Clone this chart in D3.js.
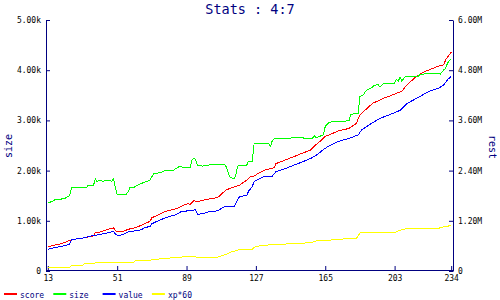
<!DOCTYPE html>
<html>
<head>
<meta charset="utf-8">
<script src="https://cdn.jsdelivr.net/npm/d3@7"></script>
<style>
body { margin: 0; background: #fff; }
svg text { font-family: "DejaVu Sans Mono", monospace; }
</style>
</head>
<body>
<div id="figure"></div>
<script>
// tick labels / axis setup
var turnTicks = [13, 51, 89, 127, 165, 203, 234];
var sizeTicks = [0, 1000, 2000, 3000, 4000, 5000];
var restTicks = [0, 1.2e6, 2.4e6, 3.6e6, 4.8e6, 6e6];
var seriesNames = ["score", "size", "value", "xp*60"];
var seriesColors = ["#ff0000", "#00ff00", "#0000ff", "#ffff00"];

// [turn, value]
var score = [[13,480],[16,510],[20,540],[23,580],[25,610],[27,630],[33,660],[38,700],[39,760],[42,780],[44,810],[47,840],[49,860],[50,810],[51,780],[54,790],[58,840],[61,860],[64,910],[66,940],[69,990],[70,1060],[73,1110],[77,1180],[81,1220],[85,1260],[87,1310],[90,1340],[91,1330],[93,1400],[95,1380],[99,1420],[102,1440],[106,1460],[108,1530],[111,1620],[114,1660],[118,1710],[122,1810],[124,1880],[126,1890],[128,1940],[132,2010],[137,2060],[138,2140],[143,2210],[148,2280],[152,2340],[157,2410],[159,2490],[163,2610],[165,2680],[169,2740],[172,2790],[178,2840],[180,2890],[182,2940],[184,3110],[187,3210],[191,3340],[197,3440],[202,3510],[207,3580],[209,3680],[212,3780],[215,3880],[220,3980],[227,4080],[230,4110],[231,4210],[233,4310],[234,4360]];

var size = [[13,1360],[15,1380],[17,1420],[22,1440],[25,1500],[26,1660],[34,1660],[35,1700],[38,1700],[39,1840],[40,1780],[41,1800],[43,1790],[46,1800],[48,1790],[49,1840],[50,1660],[51,1530],[56,1530],[57,1580],[58,1660],[60,1660],[61,1690],[64,1740],[66,1770],[69,1810],[70,1880],[71,1940],[75,1960],[77,2000],[82,2010],[83,2040],[85,2080],[87,2070],[91,2070],[92,2210],[93,2240],[94,2220],[95,2100],[98,2090],[101,2110],[102,2120],[110,2120],[111,2060],[112,1940],[113,1860],[115,1840],[116,1910],[117,2090],[118,2110],[122,2110],[123,2190],[125,2190],[126,2530],[134,2540],[135,2480],[136,2600],[137,2630],[141,2640],[152,2660],[154,2640],[158,2640],[159,2700],[160,2650],[163,2700],[164,2710],[165,2880],[167,2960],[170,2980],[178,2990],[179,3120],[183,3140],[184,3480],[186,3510],[187,3580],[188,3610],[190,3640],[192,3700],[194,3710],[195,3660],[197,3740],[203,3740],[204,3820],[205,3780],[206,3860],[207,3780],[208,3840],[209,3880],[216,3880],[217,3920],[227,3940],[228,3920],[230,4010],[231,4040],[232,4140],[234,4230]];

var value = [[13,430],[16,460],[20,490],[23,510],[25,540],[26,620],[29,640],[33,660],[37,700],[42,730],[46,760],[49,790],[50,740],[51,710],[54,720],[57,780],[61,800],[64,820],[66,860],[69,890],[70,940],[74,1010],[79,1080],[83,1120],[86,1180],[90,1200],[94,1220],[95,1130],[98,1140],[101,1180],[104,1180],[107,1220],[110,1290],[115,1280],[117,1420],[118,1480],[122,1510],[123,1590],[125,1680],[126,1780],[128,1820],[132,1890],[136,1890],[138,1980],[143,2040],[148,2110],[153,2180],[158,2260],[161,2330],[164,2420],[167,2490],[172,2580],[178,2640],[183,2710],[185,2810],[189,2910],[195,3040],[200,3110],[206,3200],[210,3340],[217,3480],[222,3580],[227,3640],[230,3710],[232,3810],[234,3880]];

var xp60 = [[13,0.08e6],[25,0.09e6],[26,0.13e6],[32,0.13e6],[33,0.17e6],[38,0.17e6],[39,0.20e6],[45,0.20e6],[46,0.21e6],[60,0.21e6],[61,0.24e6],[69,0.25e6],[70,0.27e6],[75,0.29e6],[82,0.32e6],[91,0.35e6],[95,0.33e6],[106,0.33e6],[111,0.40e6],[113,0.45e6],[117,0.49e6],[118,0.52e6],[125,0.52e6],[126,0.56e6],[127,0.59e6],[132,0.61e6],[136,0.64e6],[150,0.65e6],[158,0.69e6],[161,0.73e6],[174,0.75e6],[175,0.77e6],[182,0.77e6],[184,0.91e6],[203,0.92e6],[205,0.96e6],[208,1.00e6],[210,1.01e6],[227,1.01e6],[228,1.04e6],[232,1.07e6],[234,1.09e6]];

var w = 500, h = 300;
var plotLeft = 46, plotRight = 453, plotTop = 20, plotBottom = 271;
var navy = "#000080";

var svg = d3.select("#figure").append("svg")
    .attr("width", w)
    .attr("height", h);

svg.append("text")
    .attr("x", 250)
    .attr("y", 14)
    .attr("text-anchor", "middle")
    .style("font-size", "13.5px")
    .attr("fill", navy)
    .text("Stats : 4:7");

var xScale = d3.scaleLinear().domain([12, 235]).range([plotLeft, plotRight]);
var yLeft = d3.scaleLinear().domain([0, 5000]).range([plotBottom, plotTop]);
var yRight = d3.scaleLinear().domain([0, 6e6]).range([plotBottom, plotTop]);

function styleAxis(g) {
    g.attr("font-family", null).attr("font-size", null);
    g.select(".domain").attr("stroke", navy);
    g.selectAll(".tick line").attr("stroke", navy);
    g.selectAll(".tick text").attr("fill", "#000").style("font-size", "8px");
}

var xAxis = d3.axisBottom(xScale).tickValues(turnTicks)
    .tickSizeInner(-4).tickSizeOuter(0).tickPadding(5)
    .tickFormat(d3.format("d"));
svg.append("g")
    .attr("transform", "translate(0," + 270 + ")")
    .call(xAxis)
    .call(styleAxis);

var leftAxis = d3.axisLeft(yLeft).tickValues(sizeTicks)
    .tickSizeInner(-4).tickSizeOuter(0).tickPadding(5)
    .tickFormat(function(d) { return d === 0 ? "0" : (d / 1000).toFixed(2) + "k"; });
svg.append("g")
    .attr("transform", "translate(" + plotLeft + ",0)")
    .call(leftAxis)
    .call(styleAxis);

var rightAxis = d3.axisRight(yRight).tickValues(restTicks)
    .tickSizeInner(-4).tickSizeOuter(0).tickPadding(5)
    .tickFormat(function(d) { return d === 0 ? "0" : (d / 1e6).toFixed(2) + "M"; });
svg.append("g")
    .attr("transform", "translate(" + plotRight + ",0)")
    .call(rightAxis)
    .call(styleAxis);

// axis titles
svg.append("text")
    .attr("transform", "translate(12,146) rotate(-90)")
    .attr("text-anchor", "middle")
    .style("font-size", "10px")
    .attr("fill", navy)
    .text("size");
svg.append("text")
    .attr("transform", "translate(489,147) rotate(90)")
    .attr("text-anchor", "middle")
    .style("font-size", "10px")
    .attr("fill", navy)
    .text("rest");

// lines
var leftLine = d3.line()
    .x(function(d) { return xScale(d[0]); })
    .y(function(d) { return yLeft(d[1]); });
var rightLine = d3.line()
    .x(function(d) { return xScale(d[0]); })
    .y(function(d) { return yRight(d[1]); });

var allSeries = [score, size, value, xp60];
allSeries.forEach(function(data, i) {
    svg.append("path")
        .datum(data)
        .attr("fill", "none")
        .attr("stroke", seriesColors[i])
        .attr("stroke-width", 1)
        .attr("shape-rendering", "crispEdges")
        .attr("d", i == 3 ? rightLine : leftLine);
});

// legend
var legend = svg.selectAll(".legend")
    .data(seriesNames)
    .enter()
    .append("g")
    .attr("transform", function(d, i) { return "translate(" + (4 + i * 49.3) + ",0)"; });
legend.append("line")
    .attr("x1", 0).attr("x2", 13)
    .attr("y1", 294).attr("y2", 294)
    .attr("stroke", function(d, i) { return seriesColors[i]; })
    .attr("stroke-width", 2);
legend.append("text")
    .attr("x", 16)
    .attr("y", 297.5)
    .style("font-size", "8px")
    .attr("fill", navy)
    .text(function(d) { return d; });
</script>
</body>
</html>
